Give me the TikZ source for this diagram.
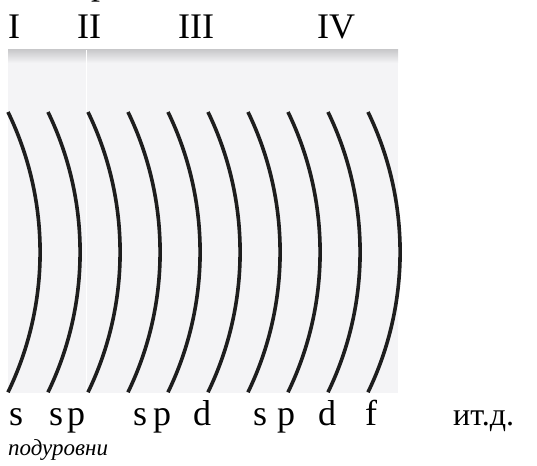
\documentclass[tikz,border=0pt]{standalone}
\usepackage{fontspec}
\setmainfont{Liberation Serif}
\usetikzlibrary{positioning}
\definecolor{panelbg}{RGB}{244,244,246}
\definecolor{bandtop}{RGB}{202,202,204}
\definecolor{shellline}{RGB}{30,30,30}
\tikzstyle{num}=[anchor=base west,inner sep=0pt,font=\fontsize{36}{40}\selectfont]
\tikzstyle{sub}=[anchor=base west,inner sep=0pt,font=\fontsize{36}{40}\selectfont]
\tikzstyle{note}=[anchor=base west,inner sep=0pt,font=\fontsize{23}{26}\selectfont\itshape]
\tikzstyle{shell}=[draw=shellline,line width=3.6pt]
\begin{document}
\begin{tikzpicture}[x=1pt,y=1pt]
\useasboundingbox (0,0) rectangle (537,465);
% panel
\fill[panelbg] (8,72) rectangle (398,415);
\shade[top color=bandtop,bottom color=panelbg] (8,402) rectangle (398,415);
\draw[white,line width=1.2pt] (86.5,72) -- (86.5,415);
% shells
\draw[shell] (8,353) arc[start angle=25.8,end angle=-25.8,radius=322];
\draw[shell] (48,353) arc[start angle=25.8,end angle=-25.8,radius=322];
\draw[shell] (88,353) arc[start angle=25.8,end angle=-25.8,radius=322];
\draw[shell] (128,353) arc[start angle=25.8,end angle=-25.8,radius=322];
\draw[shell] (168,353) arc[start angle=25.8,end angle=-25.8,radius=322];
\draw[shell] (208,353) arc[start angle=25.8,end angle=-25.8,radius=322];
\draw[shell] (248,353) arc[start angle=25.8,end angle=-25.8,radius=322];
\draw[shell] (288,353) arc[start angle=25.8,end angle=-25.8,radius=322];
\draw[shell] (328,353) arc[start angle=25.8,end angle=-25.8,radius=322];
\draw[shell] (368,353) arc[start angle=25.8,end angle=-25.8,radius=322];
% levels
\node (top) [num] at (91,470) {р};
\node (lvA) [num] at (8,426) {I};
\node (lvB) [num] at (77,426) {II};
\node (lvC) [num] at (178,426) {III};
\node (lvD) [num] at (317,426) {IV};
% sublevels
\node (sA) [sub] at (9,39) {s};
\node (sB) [sub] at (49,39) {s};
\node (pB) [sub] at (67,39) {p};
\node (sC) [sub] at (133,39) {s};
\node (pC) [sub] at (153,39) {p};
\node (dC) [sub] at (193,39) {d};
\node (sD) [sub] at (253,39) {s};
\node (pD) [sub] at (277,39) {p};
\node (dD) [sub] at (318,39) {d};
\node (fD) [sub] at (365,39) {f};
\node (etc) [sub,font=\fontsize{32}{36}\selectfont] at (453,39) {ит.д.};
\node (subl) [note] at (8,10) {подуровни};
\end{tikzpicture}
\end{document}
